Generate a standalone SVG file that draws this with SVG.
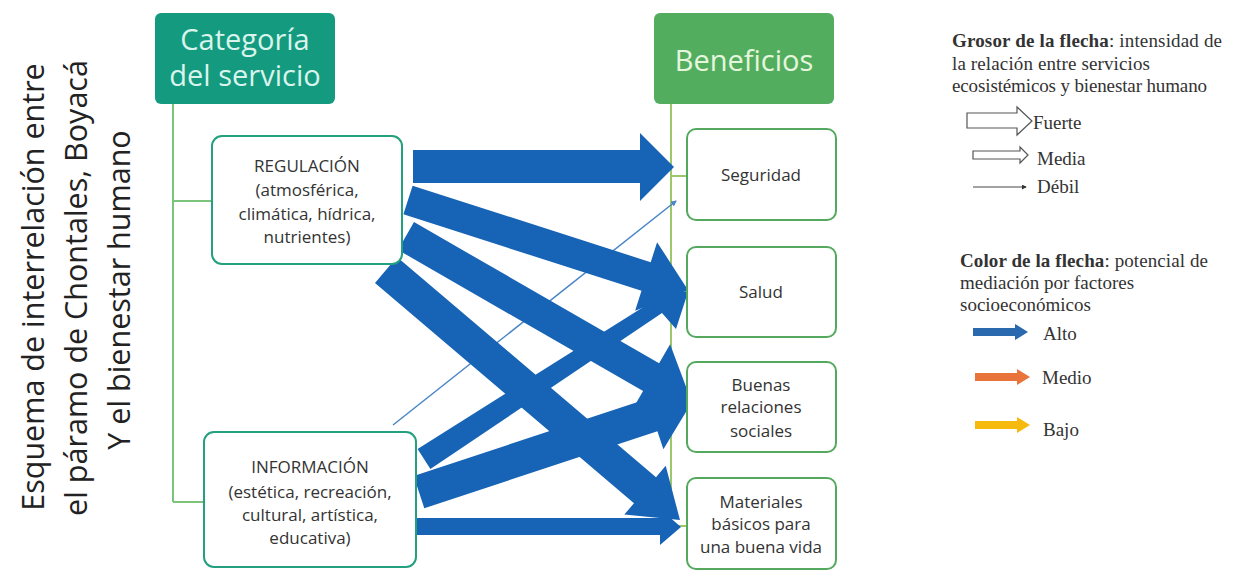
<svg xmlns="http://www.w3.org/2000/svg" width="1234" height="579" viewBox="0 0 1234 579">
<style>
.title{font-family:"Open Sans","Noto Sans",sans-serif;font-size:30.5px;fill:#222;text-anchor:middle}
.hdr{font-family:"Open Sans","Noto Sans",sans-serif;text-anchor:middle}
.cat{fill:#fff;stroke:#24A07F;stroke-width:2}
.ben{fill:#fff;stroke:#55A95E;stroke-width:2}
.bt{font-family:"Open Sans","Noto Sans",sans-serif;font-size:17px;fill:#333;text-anchor:middle}
.tree{stroke:#7CC47C;stroke-width:2;fill:none}
.tree2{stroke:#9CC86A;stroke-width:2;fill:none}
.arr{fill:#1763B5}
.leg{font-family:"Liberation Serif","Times New Roman",serif;font-size:19px;fill:#333}
.legb{font-weight:bold}
.out{fill:#fff;stroke:#555;stroke-width:1.2}
</style>
<defs>
<marker id="dot" viewBox="0 0 6 6" refX="5" refY="3" markerWidth="5" markerHeight="5" orient="auto">
<path d="M0,0 L6,3 L0,6 Z" fill="#333"/>
</marker>
<marker id="thin" viewBox="0 0 6 6" refX="5" refY="3" markerWidth="4" markerHeight="4" orient="auto">
<path d="M0,0 L6,3 L0,6 Z" fill="#4A86C5"/>
</marker>
</defs>
<rect width="1234" height="579" fill="#fff"/>

<g id="title">
<text class="title" transform="translate(44,287) rotate(-90)">Esquema de interrelación entre</text>
<text class="title" transform="translate(87,288) rotate(-90)">el páramo de Chontales, Boyacá</text>
<text class="title" transform="translate(130,290) rotate(-90)">Y el bienestar humano</text>
</g>

<g id="connectors">
<path class="tree" d="M173,104 V502 M173,201 H212 M173,502 H204"/>
<path class="tree2" d="M671,104 V526 M671,176 H687 M671,292 H687 M671,407 H687 M671,526 H687"/>
<line x1="393" y1="425" x2="676" y2="201" stroke="#4A86C5" stroke-width="1.5" marker-end="url(#thin)"/>
<polygon class="arr" points="413,150 640,150 640,133 674,167 640,201 640,183 413,183"/>
<polygon class="arr" points="412.6,185.7 650.7,262.2 657.1,242.2 688,290 635.1,310.8 641.5,290.8 403.4,214.3"/>
<polygon class="arr" points="414,222.1 659.1,363.2 670.1,344.2 691,400 632.1,410.1 643.1,391 398,249.9"/>
<polygon class="arr" points="397,257 656,477.2 665.7,465.8 680,520 624.3,514.6 634,503.2 375,283"/>
<polygon class="arr" points="417.6,448.9 653,301 649,287 688,292 676,329 662,313 430.4,469.1"/>
<polygon class="arr" points="413.7,475.9 646.8,399 640.8,380.9 692,402 663.4,449.3 657.4,431.3 424.3,508.2"/>
<polygon class="arr" points="415,518 660,518 660,509 681,527 660,545 660,535 415,535"/>
</g>

<g id="categoria">
<rect x="155" y="13" width="180" height="91" rx="6" fill="#149A7F"/>
<text class="hdr" x="245" y="50" font-size="29" fill="#D9F4EC">Categoría</text>
<text class="hdr" x="245" y="86" font-size="29" fill="#D9F4EC">del servicio</text>
</g>
<g id="beneficios">
<rect x="654" y="13" width="180" height="91" rx="6" fill="#52AE5E"/>
<text class="hdr" x="744" y="71" font-size="29" fill="#E6F6DE">Beneficios</text>
</g>

<g id="regulacion">
<rect class="cat" x="212" y="136" width="190" height="128" rx="10"/>
<text class="bt" x="307" y="172">REGULACIÓN</text>
<text class="bt" x="307" y="196">(atmosférica,</text>
<text class="bt" x="307" y="220">climática, hídrica,</text>
<text class="bt" x="307" y="243">nutrientes)</text>
</g>
<g id="informacion">
<rect class="cat" x="204" y="432" width="212" height="135" rx="10"/>
<text class="bt" x="310" y="473">INFORMACIÓN</text>
<text class="bt" x="310" y="498">(estética, recreación,</text>
<text class="bt" x="310" y="521">cultural, artística,</text>
<text class="bt" x="310" y="544">educativa)</text>
</g>

<g id="seguridad">
<rect class="ben" x="687" y="129" width="149" height="91" rx="9"/>
<text class="bt" x="761" y="181">Seguridad</text>
</g>
<g id="salud">
<rect class="ben" x="687" y="247" width="149" height="90" rx="9"/>
<text class="bt" x="761" y="298">Salud</text>
</g>
<g id="buenas">
<rect class="ben" x="687" y="362" width="149" height="90" rx="9"/>
<text class="bt" x="761" y="391">Buenas</text>
<text class="bt" x="761" y="413">relaciones</text>
<text class="bt" x="761" y="437">sociales</text>
</g>
<g id="materiales">
<rect class="ben" x="687" y="478" width="149" height="91" rx="9"/>
<text class="bt" x="761" y="508">Materiales</text>
<text class="bt" x="761" y="530">básicos para</text>
<text class="bt" x="761" y="553">una buena vida</text>
</g>

<g id="legend">
<text class="leg" x="952" y="47" textLength="270"><tspan class="legb">Grosor de la flecha</tspan>: intensidad de</text>
<text class="leg" x="952" y="70" textLength="198">la relación entre servicios</text>
<text class="leg" x="952" y="92" textLength="255">ecosistémicos y bienestar humano</text>
<polygon class="out" points="967,113 1017,113 1017,107 1032,121 1017,135 1017,128 967,128"/>
<text class="leg" x="1033" y="129">Fuerte</text>
<polygon class="out" points="973,151 1020,151 1020,147 1028,155 1020,163 1020,159 973,159"/>
<text class="leg" x="1037" y="165">Media</text>
<line x1="973" y1="187" x2="1026" y2="187" stroke="#444" stroke-width="1" marker-end="url(#dot)"/>
<text class="leg" x="1037" y="193">Débil</text>
<text class="leg" x="960" y="267" textLength="248"><tspan class="legb">Color de la flecha</tspan>: potencial de</text>
<text class="leg" x="960" y="289">mediación por factores</text>
<text class="leg" x="960" y="311">socioeconómicos</text>
<polygon fill="#2A69AD" points="973,328 1015,328 1015,324 1028,332 1015,340 1015,336 973,336"/>
<text class="leg" x="1043" y="340">Alto</text>
<polygon fill="#E8743B" points="975,373 1017,373 1017,369 1030,377 1017,385 1017,381 975,381"/>
<text class="leg" x="1042" y="384">Medio</text>
<polygon fill="#F6B90D" points="975,421 1017,421 1017,417 1030,425 1017,433 1017,429 975,429"/>
<text class="leg" x="1043" y="436">Bajo</text>
</g>
</svg>
